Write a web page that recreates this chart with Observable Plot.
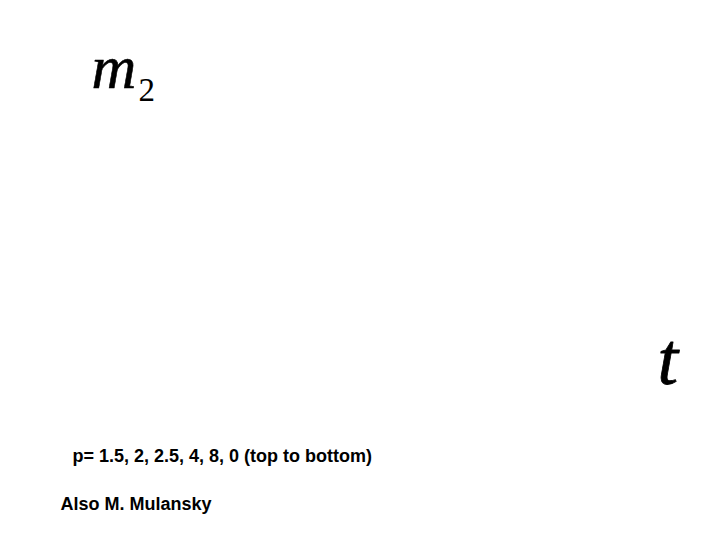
<!DOCTYPE html>
<html>
<head>
<meta charset="utf-8">
<script src="https://cdn.jsdelivr.net/npm/d3@7"></script>
<script src="https://cdn.jsdelivr.net/npm/@observablehq/plot@0.6"></script>
<style>
  html, body { margin: 0; padding: 0; background: #fff; }
</style>
</head>
<body>
<div id="chart"></div>
<script>
// Data
const yLabel = "m";
const ySubscript = "2";
const xLabel = "t";
const pValues = [1.5, 2, 2.5, 4, 8, 0];
const captionNote = "(top to bottom)";
const credit = "Also M. Mulansky";

const captionText = "p= " + pValues.join(", ") + " " + captionNote;

const serif = "'Liberation Serif', 'Times New Roman', serif";
const sans = "'Liberation Sans', Arial, sans-serif";

const chart = Plot.plot({
  width: 720,
  height: 540,
  margin: 0,
  style: { background: "#fff", color: "#000" },
  marks: [
    Plot.text([yLabel], {
      frameAnchor: "top-left", dx: 91, dy: 87,
      textAnchor: "start", lineAnchor: "bottom",
      fontFamily: serif, fontStyle: "italic", fontSize: 62, fill: "#000",
      stroke: "#000", strokeWidth: 0.6
    }),
    Plot.text([ySubscript], {
      frameAnchor: "top-left", dx: 138, dy: 100,
      textAnchor: "start", lineAnchor: "bottom",
      fontFamily: serif, fontSize: 33, fill: "#000"
    }),
    Plot.text([xLabel], {
      frameAnchor: "top-left", dx: 657, dy: 383,
      textAnchor: "start", lineAnchor: "bottom",
      fontFamily: serif, fontStyle: "italic", fontSize: 74, fill: "#000",
      stroke: "#000", strokeWidth: 0.8
    }),
    Plot.text([captionText], {
      frameAnchor: "top-left", dx: 72, dy: 461,
      textAnchor: "start", lineAnchor: "bottom",
      fontFamily: sans, fontWeight: "bold", fontSize: 18, fill: "#000"
    }),
    Plot.text([credit], {
      frameAnchor: "top-left", dx: 60, dy: 509,
      textAnchor: "start", lineAnchor: "bottom",
      fontFamily: sans, fontWeight: "bold", fontSize: 18, fill: "#000"
    })
  ]
});
document.getElementById("chart").appendChild(chart);
</script>
</body>
</html>
